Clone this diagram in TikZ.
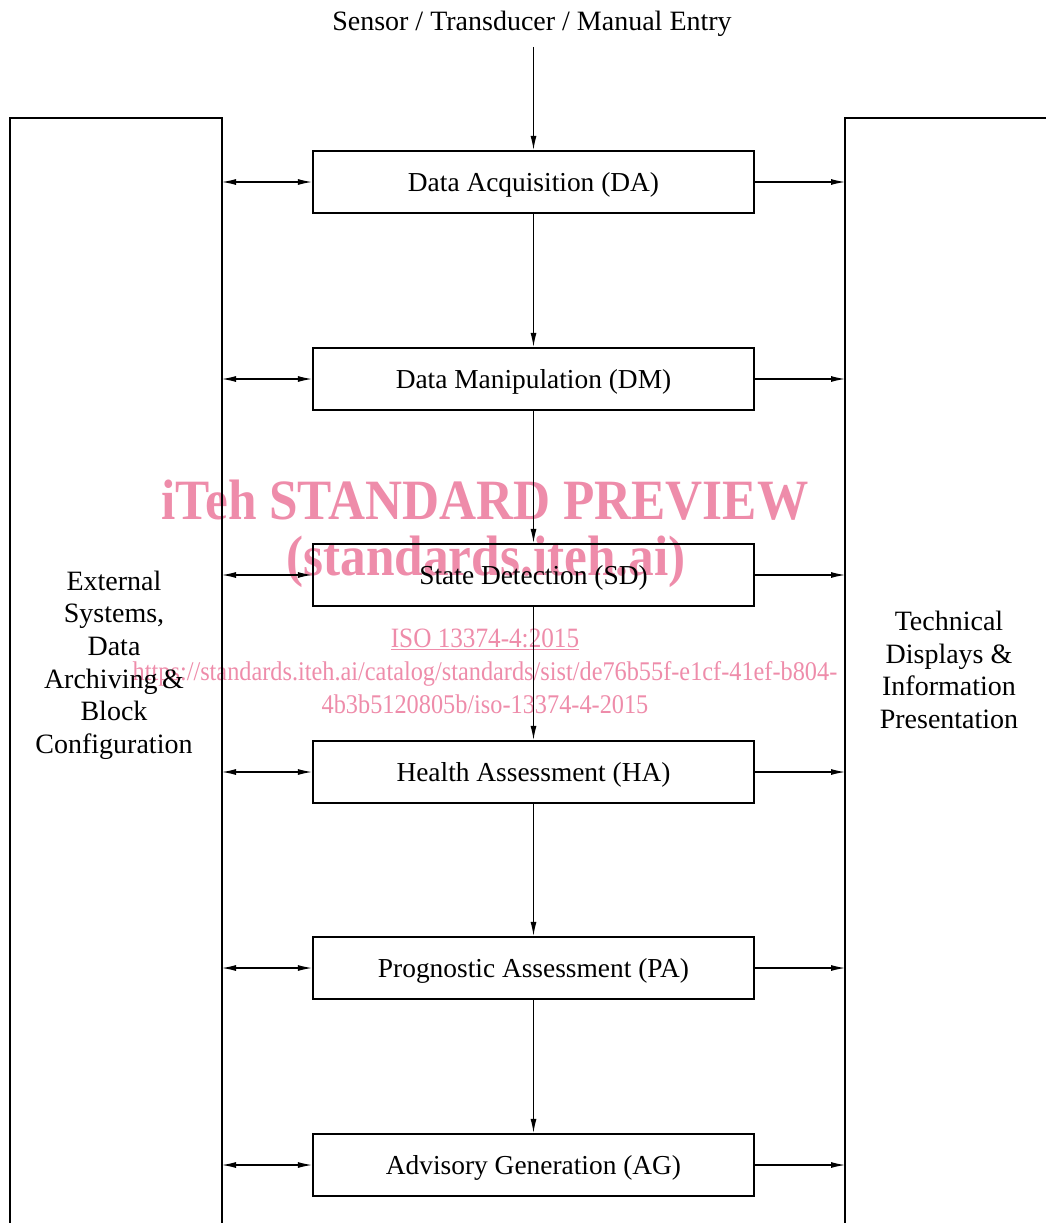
\documentclass[tikz,border=0pt]{standalone}
\usepackage{fontspec}
\setmainfont{Liberation Serif}
\usepackage{tikz}
\usetikzlibrary{positioning,arrows.meta}
\usepackage{xcolor}
\definecolor{wmpink}{HTML}{EE8CAA}
\tikzstyle{stage}=[rectangle, draw=black, line width=2.2pt, minimum width=441pt, minimum height=62pt,
text centered, text height=20pt, text depth=2pt, font=\fontsize{27.4}{31}\selectfont]
\tikzstyle{flow}=[-{Latex[length=14pt,width=6pt]}, line width=1.1pt]
\tikzstyle{twoway}=[{Latex[length=14pt,width=6pt]}-{Latex[length=14pt,width=6pt]}, line width=1.1pt]
\tikzstyle{panel}=[line width=2.2pt]
\tikzstyle{sidetext}=[align=center, font=\fontsize{28}{32.6}\selectfont]
\tikzstyle{wmark}=[text=wmpink, xscale=0.9, transform shape]

\begin{document}
\begin{tikzpicture}[x=1pt, y=-1pt]
            \useasboundingbox (0,0) rectangle (1046,1223);
            % watermark
            \node (wm1)[wmark, font=\bfseries\fontsize{57}{60}\selectfont] at (485,500) {iTeh STANDARD PREVIEW};
            \node (wm2)[wmark, font=\bfseries\fontsize{57}{60}\selectfont] at (486,562) {(standards.iteh.ai)};
            \node (wm3)[wmark, font=\fontsize{28}{30}\selectfont] at (485,639) {\underline{ISO 13374-4:2015}};
            \node (wm4)[wmark, font=\fontsize{27}{30}\selectfont] at (485,674) {https://standards.iteh.ai/catalog/standards/sist/de76b55f-e1cf-41ef-b804-};
            \node (wm5)[wmark, font=\fontsize{27}{30}\selectfont] at (485,704) {4b3b5120805b/iso-13374-4-2015};

            % side panels
            \coordinate (lp) at (222,118);
            \coordinate (rp) at (845,118);
            \draw[panel] (10,1223) -- (10,118) -- (lp) -- (222,1223);
            \draw[panel] (845,1223) -- (rp) -- (1046,118);
            \node (ext)[sidetext] at (114,665)
                {External\\Systems,\\Data\\Archiving\,\&\\Block\\Configuration};
            \node (tech)[sidetext] at (949,670)
                {Technical\\Displays \&\\Information\\Presentation};

            % source
            \node (src)[font=\fontsize{28}{31}\selectfont, inner ysep=10pt] at (532,24) {Sensor / Transducer / Manual Entry};

            % stages
            \node (da)[stage] at (533.5,182) {Data Acquisition (DA)};
            \node (dm)[stage] at (533.5,379) {Data Manipulation (DM)};
            \node (sd)[stage] at (533.5,575) {State Detection (SD)};
            \node (ha)[stage] at (533.5,772) {Health Assessment (HA)};
            \node (pa)[stage] at (533.5,968) {Prognostic Assessment (PA)};
            \node (ag)[stage] at (533.5,1165) {Advisory Generation (AG)};

            % main chain
            \draw[flow] (src.south -| da.north) -- (da.north);
            \draw[flow] (da) -- (dm);
            \draw[flow] (dm) -- (sd);
            \draw[flow] (sd) -- (ha);
            \draw[flow] (ha) -- (pa);
            \draw[flow] (pa) -- (ag);

            % links to the panels
            \draw[twoway] (da.west -| lp) -- (da.west);
            \draw[twoway] (dm.west -| lp) -- (dm.west);
            \draw[twoway] (sd.west -| lp) -- (sd.west);
            \draw[twoway] (ha.west -| lp) -- (ha.west);
            \draw[twoway] (pa.west -| lp) -- (pa.west);
            \draw[twoway] (ag.west -| lp) -- (ag.west);
            \draw[flow] (da.east) -- (da.east -| rp);
            \draw[flow] (dm.east) -- (dm.east -| rp);
            \draw[flow] (sd.east) -- (sd.east -| rp);
            \draw[flow] (ha.east) -- (ha.east -| rp);
            \draw[flow] (pa.east) -- (pa.east -| rp);
            \draw[flow] (ag.east) -- (ag.east -| rp);
\end{tikzpicture}
\end{document}
